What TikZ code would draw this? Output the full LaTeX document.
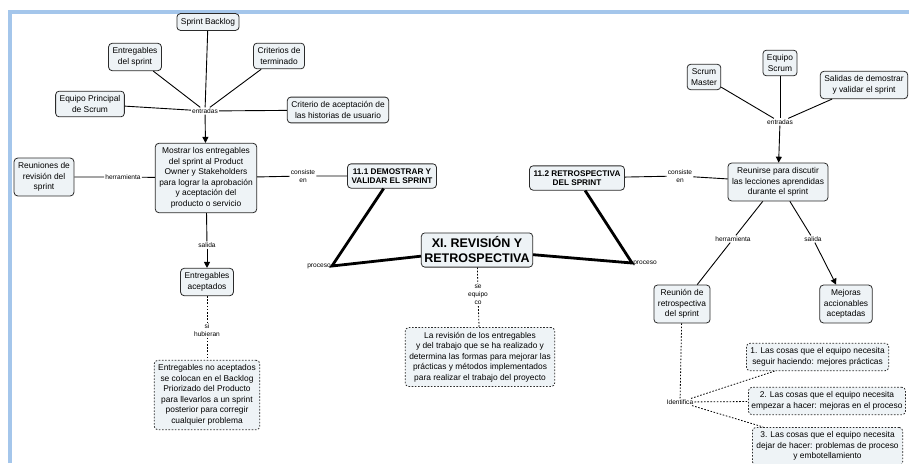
\documentclass[tikz,border=0pt]{standalone}
\usepackage{fontspec}
\setmainfont{Liberation Sans}
\usetikzlibrary{arrows.meta}
\definecolor{cmFrame}{HTML}{A4C6EB}
\definecolor{cmFill}{HTML}{EEF3F6}
\definecolor{cmLine}{HTML}{2B2B2B}
\tikzset{
  % boxes of the concept map and the small linking words
  concept/.style   = {draw=cmLine, fill=cmFill, rounded corners=3.5pt, line width=0.8pt,
                      align=center, inner xsep=4pt, inner ysep=4.5pt,
                      font=\fontsize{8.4}{10.5}\selectfont},
  dconcept/.style  = {concept, dash pattern=on 1.6pt off 1.6pt},
  topic/.style     = {concept, font=\bfseries\fontsize{8.2}{9.5}\selectfont},
  maintopic/.style = {concept, inner xsep=3pt, inner ysep=4pt,
                      font=\bfseries\fontsize{12.5}{15}\selectfont},
  linkw/.style     = {fill=white, inner sep=1pt, align=center,
                      font=\fontsize{6.6}{8}\selectfont},
  conn/.style      = {line width=0.9pt, black},
  arr/.style       = {conn, -{Triangle[length=6pt, width=6pt]}},
}

\begin{document}
\begin{tikzpicture}[x=1pt, y=-1pt,
    proc/.style={line width=2.8pt, black},
    dconn/.style={line width=0.8pt, dash pattern=on 1.6pt off 1.6pt}]
  \clip (0,0) rectangle (909,463);
  % frame
  \draw[cmFrame, line width=4pt] (9.5,463) -- (9.5,12) -- (909,12);

  % main topic
  \node[maintopic] (main) at (477,250) {XI. REVISIÓN Y\\RETROSPECTIVA};
  \node[linkw] (seq) at (478,295) {se\\equipo\\co};
  \node[dconcept] (resumen) at (480,357) {La revisión de los entregables\\y del trabajo que se ha realizado y\\determina las formas para mejorar las\\prácticas y métodos implementados\\para realizar el trabajo del proyecto};
  \draw[dconn] (main) -- (seq) -- (resumen);

  % 11.1 demostrar y validar
  \node[topic] (dem) at (392,176) {11.1 DEMOSTRAR Y\\VALIDAR EL SPRINT};
  \node[linkw] (procA) at (319,266) {proceso};
  \draw[proc] (dem) -- (procA.east) -- (main);
  \node[concept] (mostrar) at (206,178) {Mostrar los entregables\\del sprint al Product\\Owner y Stakeholders\\para lograr la aprobación\\y aceptación del\\producto o servicio};
  \node[linkw] (consA) at (303,176) {consiste\\en};
  \draw[conn] (mostrar) -- (consA) -- (dem);
  \node[concept] (backlog) at (208,22) {Sprint Backlog};
  \node[concept] (entsp) at (135,57) {Entregables\\del sprint};
  \node[concept] (critterm) at (279,56) {Criterios de\\terminado};
  \node[concept] (equipoP) at (90,104) {Equipo Principal\\de Scrum};
  \node[concept] (critacep) at (338,110) {Criterio de aceptación de\\las historias de usuario};
  \node[linkw] (entA) at (205,111) {entradas};
  \foreach \src in {backlog, entsp, critterm, equipoP, critacep}
    \draw[conn] (\src) -- (entA);
  \draw[arr] (entA) -- (mostrar);
  \node[concept] (reuRev) at (44,177) {Reuniones de\\revisión del\\sprint};
  \node[linkw] (herrA) at (123,177) {herramienta};
  \draw[conn] (mostrar) -- (herrA) -- (reuRev);
  \node[linkw] (salA) at (207,245) {salida};
  \node[concept] (entAcep) at (207,282) {Entregables\\aceptados};
  \draw[conn] (mostrar) -- (salA);
  \draw[arr] (salA) -- (entAcep);
  \node[linkw] (siHub) at (207,330) {si\\hubieran};
  \node[dconcept] (noAcep) at (207,395) {Entregables no aceptados\\se colocan en el Backlog\\Priorizado del Producto\\para llevarlos a un sprint\\posterior para corregir\\cualquier problema};
  \draw[dconn] (entAcep) -- (siHub) -- (noAcep);

  % 11.2 retrospectiva
  \node[topic] (retro) at (577,178) {11.2 RETROSPECTIVA\\DEL SPRINT};
  \node[linkw] (procB) at (645,263) {proceso};
  \draw[proc] (retro) -- (procB.west) -- (main);
  \node[concept] (reunirse) at (778,182) {Reunirse para discutir\\las lecciones aprendidas\\durante el sprint};
  \node[linkw] (consB) at (680,176) {consiste\\en};
  \draw[conn] (retro) -- (consB) -- (reunirse);
  \node[concept] (smaster) at (704,77) {Scrum\\Master};
  \node[concept] (eqScrum) at (780,63) {Equipo\\Scrum};
  \node[concept] (salidas) at (864,85) {Salidas de demostrar\\y validar el sprint};
  \node[linkw] (entB) at (780,122) {entradas};
  \foreach \src in {smaster, eqScrum, salidas}
    \draw[conn] (\src) -- (entB);
  \draw[arr] (entB) -- (reunirse);
  \node[linkw] (herrB) at (733,239) {herramienta};
  \node[concept] (reuRet) at (682,304) {Reunión de\\retrospectiva\\del sprint};
  \draw[conn] (reunirse) -- (herrB) -- (reuRet);
  \node[linkw] (salB) at (813,239) {salida};
  \node[concept] (mejoras) at (846,304) {Mejoras\\accionables\\aceptadas};
  \draw[conn] (reunirse) -- (salB);
  \draw[arr] (salB) -- (mejoras);

  % what the retrospective identifies
  \node[linkw] (ident) at (680,402) {Identifica};
  \node[dconcept, anchor=west] (cosa1) at (746,357) {1. Las cosas que el equipo necesita\\seguir haciendo: mejores prácticas};
  \node[dconcept, anchor=west, inner xsep=3pt] (cosa2) at (748,401) {2. Las cosas que el equipo necesita\\empezar a hacer: mejoras en el proceso};
  \node[dconcept, anchor=north west] (cosa3) at (752,427) {3. Las cosas que el equipo necesita\\dejar de hacer: problemas de proceso\\y embotellamiento};
  \draw[dconn] (reuRet) -- (ident);
  \foreach \dst in {cosa1, cosa2, cosa3}
    \draw[dconn] (ident) -- (\dst);
\end{tikzpicture}
\end{document}
